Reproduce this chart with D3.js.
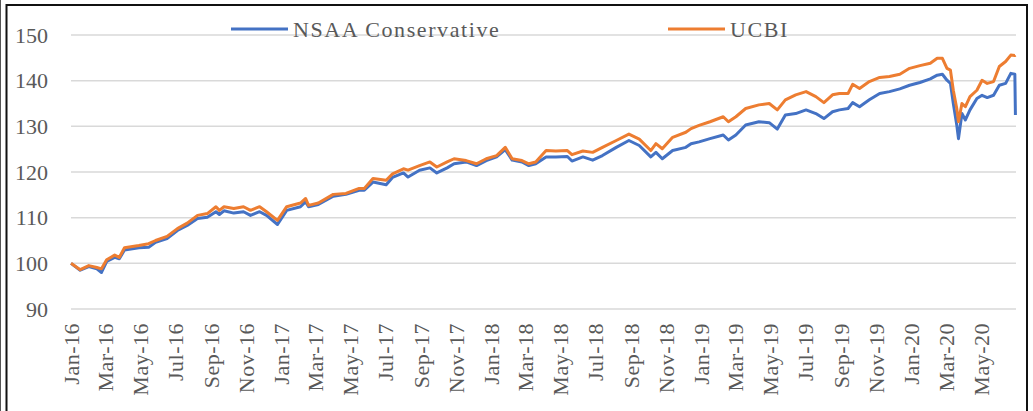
<!DOCTYPE html>
<html>
<head>
<meta charset="utf-8">
<script src="https://d3js.org/d3.v7.min.js"></script>
<style>
  html, body { margin: 0; padding: 0; background: #fff; }
  svg { display: block; }
  text { font-family: "Liberation Serif", "Times New Roman", serif; fill: #595959; }
</style>
</head>
<body>
<div id="chart"></div>
<script>
// Index values (start = 100)
const dates = [
  "2016-01-01","2016-01-17","2016-02-01","2016-02-15","2016-02-23","2016-03-03","2016-03-17","2016-03-25",
  "2016-04-03","2016-04-28","2016-05-15","2016-05-27","2016-06-16","2016-07-04","2016-07-21","2016-08-08",
  "2016-08-25","2016-09-09","2016-09-15","2016-09-23","2016-10-10","2016-10-27","2016-11-08","2016-11-24",
  "2016-12-06","2016-12-25",
  "2017-01-10","2017-02-03","2017-02-12","2017-02-17","2017-03-06","2017-04-01","2017-04-23","2017-05-16",
  "2017-05-25","2017-06-09","2017-07-02","2017-07-13","2017-08-01","2017-08-09","2017-08-29","2017-09-16",
  "2017-09-28","2017-10-16","2017-10-28","2017-11-18","2017-12-06","2017-12-23",
  "2018-01-10","2018-01-25","2018-02-06","2018-02-23","2018-03-07","2018-03-19","2018-04-06","2018-04-23",
  "2018-05-13","2018-05-21","2018-06-09","2018-06-26","2018-07-13","2018-08-06","2018-08-28","2018-09-15",
  "2018-10-05","2018-10-14","2018-10-25","2018-11-12","2018-12-05","2018-12-14","2018-12-28",
  "2019-01-16","2019-02-08","2019-02-17","2019-03-02","2019-03-19","2019-04-11","2019-04-29","2019-05-13",
  "2019-05-27","2019-06-14","2019-07-02","2019-07-19","2019-08-02","2019-08-17","2019-08-29","2019-09-13",
  "2019-09-21","2019-10-03","2019-10-20","2019-11-07","2019-11-24","2019-12-12","2019-12-29",
  "2020-01-16","2020-02-03","2020-02-15","2020-02-24","2020-03-03","2020-03-09","2020-03-14","2020-03-20",
  "2020-03-23","2020-03-29","2020-04-04","2020-04-12","2020-04-24","2020-05-03","2020-05-12","2020-05-23",
  "2020-06-02","2020-06-13","2020-06-22","2020-06-29","2020-06-30"
];

const nsaa = [
  100.0, 98.5, 99.3, 98.8, 98.0, 100.4, 101.3, 101.0,
  102.9, 103.4, 103.5, 104.6, 105.4, 107.2, 108.3, 109.8,
  110.1, 111.3, 110.7, 111.5, 111.0, 111.3, 110.5, 111.3,
  110.5, 108.5,
  111.6, 112.4, 113.5, 112.4, 112.9, 114.7, 115.1, 116.0,
  116.0, 117.8, 117.2, 118.8, 119.8, 118.9, 120.4, 120.9,
  119.8, 120.9, 121.8, 122.2, 121.4, 122.5,
  123.3, 124.9, 122.6, 122.2, 121.4, 121.8, 123.3, 123.3,
  123.4, 122.4, 123.3, 122.6, 123.6, 125.4, 126.9, 125.8,
  123.3, 124.3, 122.9, 124.7, 125.4, 126.2, 126.6,
  127.3, 128.1, 127.0, 128.1, 130.3, 131.0, 130.8, 129.4,
  132.5, 132.8, 133.6, 132.8, 131.7, 133.2, 133.6, 133.9,
  135.2, 134.3, 135.8, 137.2, 137.6, 138.2, 139.0,
  139.6, 140.4, 141.2, 141.4, 140.1, 139.4, 135.0, 130.3,
  127.3, 132.8, 131.4, 133.6, 136.1, 136.8, 136.3, 136.8,
  139.0, 139.4, 141.6, 141.4, 132.5
];

const ucbi = [
  100.0, 98.6, 99.5, 99.1, 98.8, 100.8, 101.8, 101.3,
  103.4, 103.9, 104.3, 105.0, 105.9, 107.6, 108.8, 110.5,
  110.9, 112.4, 111.6, 112.4, 112.0, 112.4, 111.6, 112.4,
  111.3, 109.4,
  112.4, 113.2, 114.2, 112.7, 113.2, 115.1, 115.3, 116.4,
  116.4, 118.6, 118.2, 119.6, 120.7, 120.4, 121.4, 122.2,
  121.1, 122.2, 122.9, 122.5, 121.8, 122.9,
  123.6, 125.4, 122.9, 122.5, 121.8, 122.2, 124.7, 124.6,
  124.7, 123.8, 124.6, 124.3, 125.4, 126.9, 128.3, 127.2,
  124.7, 126.2, 125.1, 127.6, 128.7, 129.5, 130.2,
  131.0, 132.1, 131.0, 132.1, 133.9, 134.7, 135.0, 133.6,
  135.8, 136.9, 137.6, 136.5, 135.2, 136.9, 137.2, 137.2,
  139.2, 138.3, 139.8, 140.7, 140.9, 141.4, 142.7,
  143.3, 143.8, 144.9, 144.9, 142.7, 142.3, 137.9, 133.9,
  131.0, 135.0, 134.3, 136.5, 137.9, 140.1, 139.4, 139.8,
  143.1, 144.2, 145.6, 145.5, 145.6
];

const seriesNames = ["NSAA Conservative", "UCBI"];
const seriesColors = ["#4472C4", "#ED7D31"];
const yTicks = [90, 100, 110, 120, 130, 140, 150];

const width = 1033, height = 411;
const plotLeft = 71, plotRight = 1016, plotTop = 35, plotBottom = 309;

const parse = d3.timeParse("%Y-%m-%d");
const rows = dates.map((d, i) => ({ date: parse(d), nsaa: nsaa[i], ucbi: ucbi[i] }));

const svg = d3.select("#chart").append("svg")
  .attr("width", width)
  .attr("height", height);

// chart frame
svg.append("line")
  .attr("x1", 0.5).attr("x2", 0.5).attr("y1", 0).attr("y2", height)
  .attr("stroke", "#555").attr("stroke-width", 1);
svg.append("rect")
  .attr("x", 6.5).attr("y", 5).attr("width", 1020.5).attr("height", 420)
  .attr("fill", "none").attr("stroke", "#111").attr("stroke-width", 2);

const x = d3.scaleTime()
  .domain([new Date(2016, 0, 1), new Date(2020, 6, 1)])
  .range([plotLeft, plotRight]);

const y = d3.scaleLinear()
  .domain([90, 150])
  .range([plotBottom, plotTop]);

// gridlines
svg.append("g").selectAll("line")
  .data(yTicks)
  .join("line")
  .attr("x1", plotLeft).attr("x2", plotRight)
  .attr("y1", d => y(d)).attr("y2", d => y(d))
  .attr("stroke", "#d9d9d9").attr("stroke-width", 1.5);

// y axis labels
const yAxis = svg.append("g")
  .attr("transform", `translate(${plotLeft - 23},0)`)
  .call(d3.axisLeft(y).tickValues(yTicks).tickSize(0).tickPadding(0));
yAxis.select(".domain").remove();
yAxis.attr("font-family", null).attr("font-size", null);
yAxis.selectAll("text")
  .style("font-size", "22px")
  .attr("fill", "#595959");

// x axis labels every two months
const xTicks = d3.timeMonth.every(2).range(new Date(2016, 0, 1), new Date(2020, 5, 1));
const xAxis = svg.append("g")
  .attr("transform", `translate(0,${plotBottom + 14})`)
  .call(d3.axisBottom(x).tickValues(xTicks).tickFormat(d3.timeFormat("%b-%y")).tickSize(0).tickPadding(0));
xAxis.select(".domain").remove();
xAxis.attr("font-family", null).attr("font-size", null);
xAxis.selectAll("text")
  .style("font-size", "22px")
  .style("letter-spacing", "0.5px")
  .attr("fill", "#595959")
  .attr("text-anchor", "end")
  .attr("transform", "rotate(-90)")
  .attr("x", 0)
  .attr("y", 0)
  .attr("dy", "0.33em");

// lines
const keys = ["nsaa", "ucbi"];
keys.forEach((k, i) => {
  const line = d3.line()
    .x(d => x(d.date))
    .y(d => y(d[k]));
  svg.append("path")
    .datum(rows)
    .attr("d", line)
    .attr("fill", "none")
    .attr("stroke", seriesColors[i])
    .attr("stroke-width", 3)
    .attr("stroke-linejoin", "round");
});

// legend
const legendX = [231, 668];
const legend = svg.append("g");
seriesNames.forEach((name, i) => {
  legend.append("line")
    .attr("x1", legendX[i]).attr("x2", legendX[i] + 57)
    .attr("y1", 29).attr("y2", 29)
    .attr("stroke", seriesColors[i]).attr("stroke-width", 3);
  legend.append("text")
    .attr("x", legendX[i] + 62)
    .attr("y", 37)
    .style("font-size", "22px")
    .style("letter-spacing", "1.6px")
    .text(name);
});
</script>
</body>
</html>
